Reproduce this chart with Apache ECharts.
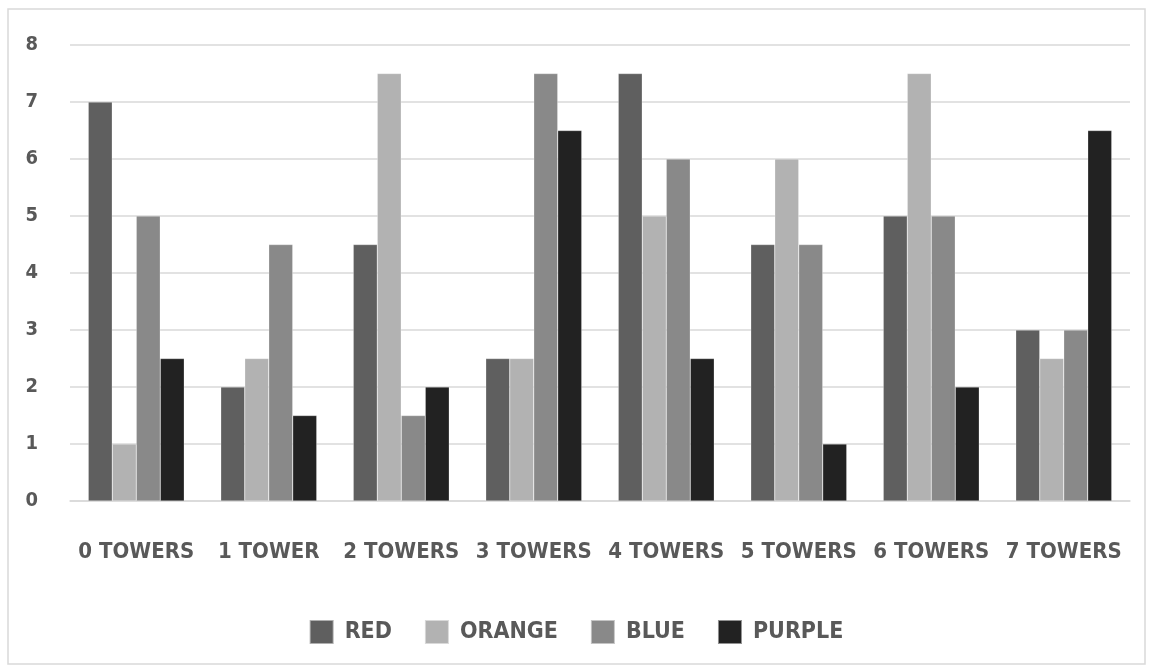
<!DOCTYPE html>
<html>
<head>
<meta charset="utf-8">
<script src="https://cdn.jsdelivr.net/npm/echarts@6/dist/echarts.min.js"></script>
<style>
  html, body { margin: 0; padding: 0; background: #fff; }
  #chart { width: 1152px; height: 672px; }
</style>
</head>
<body>
<div id="chart"></div>
<script>
  var categories = ['0 TOWERS', '1 TOWER', '2 TOWERS', '3 TOWERS', '4 TOWERS', '5 TOWERS', '6 TOWERS', '7 TOWERS'],
      seriesNames = ['RED', 'ORANGE', 'BLUE', 'PURPLE'],
      red = [7, 2, 4.5, 2.5, 7.5, 4.5, 5, 3],
      orange = [1, 2.5, 7.5, 2.5, 5, 6, 7.5, 2.5],
      blue = [5, 4.5, 1.5, 7.5, 6, 4.5, 5, 3],
      purple = [2.5, 1.5, 2, 6.5, 2.5, 1, 2, 6.5],
      colors = ['#5f5f5f', '#b2b2b2', '#898989', '#222222'],
      font = "'DejaVu Sans Condensed', 'Liberation Sans Narrow', 'Roboto', sans-serif";

  var chart = echarts.init(document.getElementById('chart'));

  // 每个系列一组柱子
  var series = [red, orange, blue, purple].map(function(values, i) {
    return {
      name: seriesNames[i],
      type: 'bar',
      data: values,
      barWidth: 24,
      barGap: '0%',
      itemStyle: { color: colors[i], borderColor: 'rgba(255,255,255,0.5)', borderWidth: 0.5 }
    };
  });

  chart.setOption({
    animation: false,
    textStyle: { fontFamily: font },
    graphic: [{
      type: 'rect',
      shape: { x: 8, y: 9, width: 1137, height: 655 },
      style: { fill: 'none', stroke: '#d9d9d9', lineWidth: 1.5 },
      silent: true
    }],
    grid: { left: 70, right: 22, top: 45, bottom: 171 },
    legend: {
      top: 614,
      left: 'center',
      itemWidth: 24,
      itemHeight: 24,
      itemGap: 32,
      icon: 'rect',
      textStyle: { color: '#595959', fontSize: 23, fontWeight: 'bold', fontFamily: font, padding: [0, 0, 0, 6] },
      data: seriesNames
    },
    xAxis: {
      type: 'category',
      data: categories,
      axisLine: { lineStyle: { color: '#d9d9d9', width: 1.5 } },
      axisTick: { show: false },
      axisLabel: { color: '#595959', fontSize: 22, fontWeight: 'bold', margin: 40, interval: 0, fontFamily: font }
    },
    yAxis: {
      type: 'value',
      min: 0,
      max: 8,
      interval: 1,
      axisLine: { show: false },
      axisTick: { show: false },
      splitLine: { lineStyle: { color: '#d9d9d9', width: 1.5 } },
      axisLabel: { color: '#595959', fontSize: 20, fontWeight: 'bold', margin: 32, fontFamily: font }
    },
    series: series
  });
</script>
</body>
</html>
